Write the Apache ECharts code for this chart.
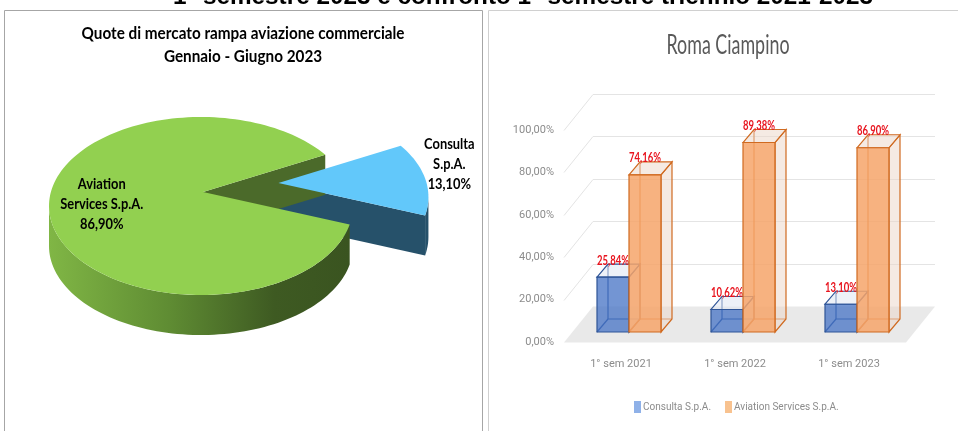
<!DOCTYPE html>
<html>
<head>
<meta charset="utf-8">
<title>Quote di mercato rampa - Roma Ciampino</title>
<script src="https://cdn.jsdelivr.net/npm/echarts/dist/echarts.min.js"></script>
<style>
  html, body { margin: 0; padding: 0; background: #fff; }
  #chart { width: 958px; height: 431px; }
</style>
</head>
<body>
<div id="chart"></div>
<script>
// dati
const categories = ['1° sem 2021', '1° sem 2022', '1° sem 2023'];
const consultaValues = [25.84, 10.62, 13.10];
const aviationValues = [74.16, 89.38, 86.90];
const yTicks = [0, 20, 40, 60, 80, 100];
const pieNames = ['Consulta S.p.A.', 'Aviation Services S.p.A.'];
const pieValues = [13.10, 86.90];

const LATO = "Lato, 'Noto Sans', sans-serif";
const AXIS_FONT = "Roboto, 'Noto Sans', sans-serif";
const pct = v => v.toFixed(2).replace('.', ',') + '%';

// i testi dell'originale sono in un carattere stretto: si comprimono in orizzontale
const measureCtx = document.createElement('canvas').getContext('2d');
function fitScale(text, font, target) {
  measureCtx.font = font;
  return target / measureCtx.measureText(text).width;
}
const sPageTitle = fitScale('1° semestre 2023 e confronto 1° semestre triennio 2021-2023', "bold 24px 'Liberation Sans'", 700);
const sPieTitle = fitScale('Quote di mercato rampa aviazione commerciale', 'bold 17px ' + LATO, 323);
const sPieLabel = fitScale('Services S.p.A.', 'bold 15px ' + LATO, 83);
const sBarTitle = fitScale('Roma Ciampino', '26px ' + LATO, 123);
const sBarLabel = fitScale('74,16%', 'bold 14px ' + LATO, 32);

// effetto 3D del grafico a barre
const WALL_DX = 29, WALL_DY = -36;
const BAR_W = 32, BAR_DX = 11, BAR_DY = -13, BAR_SHIFT_X = 8, BAR_SHIFT_Y = -10;

function renderWall(params, api) {
  const cs = params.coordSys;
  const v = api.value(1);
  const y = Math.round(api.coord([0, v])[1]) + 0.5;
  const x0 = cs.x, x1 = cs.x + cs.width;
  if (v === 0) {
    return {
      type: 'polygon',
      shape: { points: [[x0, y], [x1, y], [x1 + WALL_DX, y + WALL_DY], [x0 + WALL_DX, y + WALL_DY]] },
      style: { fill: '#e9e9e9' }
    };
  }
  return {
    type: 'polyline',
    shape: { points: [[x0, y], [x0 + WALL_DX, y + WALL_DY], [x1 + WALL_DX, y + WALL_DY]] },
    style: { stroke: '#e4e4e4', lineWidth: 1, fill: null }
  };
}

function boxRenderer(left, colors) {
  return function (params, api) {
    const base = api.coord([api.value(0), 0]);
    const top = api.coord([api.value(0), api.value(1)]);
    const xl = base[0] + BAR_SHIFT_X - (left ? BAR_W : 0);
    const xr = xl + BAR_W;
    const yb = base[1] + BAR_SHIFT_Y, yt = top[1] + BAR_SHIFT_Y;
    const dx = BAR_DX, dy = BAR_DY;
    const edge = { stroke: colors.edge, lineWidth: 1.2 };
    return {
      type: 'group',
      children: [
        // spigoli posteriori, visibili attraverso il vetro
        { type: 'polyline', shape: { points: [[xl + dx, yt + dy], [xl + dx, yb + dy], [xr + dx, yb + dy]] }, style: Object.assign({ fill: null }, edge) },
        { type: 'line', shape: { x1: xl, y1: yb, x2: xl + dx, y2: yb + dy }, style: edge },
        { type: 'polygon', shape: { points: [[xr, yt], [xr + dx, yt + dy], [xr + dx, yb + dy], [xr, yb]] }, style: Object.assign({ fill: colors.side }, edge) },
        { type: 'polygon', shape: { points: [[xl, yt], [xl + dx, yt + dy], [xr + dx, yt + dy], [xr, yt]] }, style: Object.assign({ fill: colors.side }, edge) },
        { type: 'rect', shape: { x: xl, y: yt, width: BAR_W, height: yb - yt }, style: Object.assign({ fill: colors.front }, edge) },
        {
          type: 'text', x: (xl + xr) / 2, y: yt + dy + 3, scaleX: sBarLabel,
          style: {
            text: pct(api.value(1)), x: 0, y: 0,
            align: 'center', verticalAlign: 'bottom',
            fill: '#e8141e', fontSize: 14, fontWeight: 'bold', fontFamily: LATO
          }
        }
      ]
    };
  };
}

// torta 3D
const PIE = { cx: 201, cy: 206, a: 152, b: 89, depth: 40, apexDx: 2, apexDy: -14, start: -12 };
const pieStyle = [
  { top: '#62c8fa', wall: '#26516a', side: '#26516a', explode: 77,
    label: { text: 'Consulta\nS.p.A.', dx: 24, dy: -15, outside: true } },
  { top: '#92d050', wall: '#4b6a2a', explode: 0,
    label: { text: 'Aviation\nServices S.p.A.', f: 0.68 },
    side: { type: 'linear', x: 0, y: 0, x2: 1, y2: 0, colorStops: [
      { offset: 0, color: '#80b645' }, { offset: 0.4, color: '#5f8c33' },
      { offset: 0.75, color: '#3e5a22' }, { offset: 1, color: '#3a5420' }] } }
];
const pieTotal = pieValues.reduce((s, v) => s + v, 0);
const pieAngles = [];
pieValues.reduce((acc, v) => {
  const span = v / pieTotal * 360;
  pieAngles.push([acc, acc + span]);
  return acc + span;
}, PIE.start);

function renderPie(params, api) {
  const i = params.dataIndex;
  const st = pieStyle[i];
  const rad = d => d * Math.PI / 180;
  const span = pieAngles[i][1] - pieAngles[i][0];
  const s = ((pieAngles[i][0] % 360) + 360) % 360;
  const e = s + span;
  const m = rad((s + e) / 2);
  const ox = st.explode * Math.cos(m), oy = -st.explode * Math.sin(m) * PIE.b / PIE.a;
  const rim = (deg, down) => [PIE.cx + ox + PIE.a * Math.cos(rad(deg)), PIE.cy + oy - PIE.b * Math.sin(rad(deg)) + (down ? PIE.depth : 0)];
  const apex = [PIE.cx + PIE.apexDx + ox, PIE.cy + PIE.apexDy + oy];
  const apexD = [apex[0], apex[1] + PIE.depth];
  const arc = (d1, d2, down) => {
    const pts = [];
    const n = Math.max(2, Math.ceil(Math.abs(d2 - d1) / 2));
    for (let k = 0; k <= n; k++) pts.push(rim(d1 + (d2 - d1) * k / n, down));
    return pts;
  };
  const children = [];
  // pareti radiali (z2 basso: restano dietro alle facce delle altre fette)
  if (Math.cos(rad(s)) > 0) {
    children.push({ type: 'polygon', z2: 0, shape: { points: [apex, rim(s), rim(s, true), apexD] }, style: { fill: st.wall } });
  }
  if (Math.cos(rad(e)) < 0) {
    children.push({ type: 'polygon', z2: 0, shape: { points: [apex, rim(e), rim(e, true), apexD] }, style: { fill: st.wall } });
  }
  // parete esterna (metà anteriore)
  [[180, 360], [540, 720]].forEach(r => {
    const a1 = Math.max(s, r[0]), a2 = Math.min(e, r[1]);
    if (a2 > a1) {
      const pts = arc(a1, a2, false).concat(arc(a2, a1, true));
      children.push({ type: 'polygon', z2: 1, shape: { points: pts }, style: { fill: st.side } });
    }
  });
  // faccia superiore
  children.push({ type: 'polygon', z2: 2, shape: { points: [apex].concat(arc(s, e, false)) }, style: { fill: st.top } });
  // etichetta
  let lx, ly;
  if (st.label.outside) {
    const p = rim((s + e) / 2);
    lx = p[0] + st.label.dx; ly = p[1] + st.label.dy;
  } else {
    lx = apex[0] + PIE.a * st.label.f * Math.cos(m);
    ly = apex[1] - PIE.b * st.label.f * Math.sin(m);
  }
  children.push({
    type: 'text', z2: 3, x: lx, y: ly, scaleX: sPieLabel,
    style: {
      text: st.label.text + '\n' + pct(api.value(0)), x: 0, y: 0, align: 'center', verticalAlign: 'middle',
      fill: '#000', fontSize: 15, fontWeight: 'bold', fontFamily: LATO, lineHeight: 20
    }
  });
  return { type: 'group', children: children };
}

const chart = echarts.init(document.getElementById('chart'));
chart.setOption({
  backgroundColor: '#fff',
  animation: false,
  graphic: [
    { type: 'rect', shape: { x: 4.5, y: 10.5, width: 478, height: 440 }, style: { fill: null, stroke: '#a6a6a6', lineWidth: 1 } },
    { type: 'rect', shape: { x: 488.5, y: 10.5, width: 480, height: 440 }, style: { fill: null, stroke: '#d0d0d0', lineWidth: 1 } },
    {
      type: 'text', x: 523, y: -3, scaleX: sPageTitle,
      style: { text: '1° semestre 2023 e confronto 1° semestre triennio 2021-2023', x: 0, y: 0, align: 'center', verticalAlign: 'middle',
        fill: '#000', fontSize: 24, fontWeight: 'bold', fontFamily: "'Liberation Sans', sans-serif" }
    },
    {
      type: 'text', x: 243, y: 45.5, scaleX: sPieTitle,
      style: { text: 'Quote di mercato rampa aviazione commerciale\nGennaio - Giugno 2023', x: 0, y: 0, align: 'center', verticalAlign: 'middle',
        fill: '#000', fontSize: 17, fontWeight: 'bold', fontFamily: LATO, lineHeight: 23 }
    },
    {
      type: 'text', x: 728, y: 46, scaleX: sBarTitle,
      style: { text: 'Roma Ciampino', x: 0, y: 0, align: 'center', verticalAlign: 'middle',
        fill: '#595959', fontSize: 26, fontFamily: LATO }
    }
  ],
  legend: {
    left: 634, top: 401, padding: 0, icon: 'rect', itemWidth: 7, itemHeight: 12, itemGap: 14,
    selectedMode: false,
    textStyle: { color: '#8c8c8c', fontSize: 10, fontFamily: AXIS_FONT, padding: [0, 0, 0, -3] },
    data: [
      { name: 'Consulta S.p.A.', itemStyle: { color: '#8fb1e8' } },
      { name: 'Aviation Services S.p.A.', itemStyle: { color: '#f8c28f' } }
    ]
  },
  grid: { left: 564, right: 52, top: 130, bottom: 89 },
  xAxis: {
    type: 'category', data: categories,
    axisLine: { show: false }, axisTick: { show: false },
    axisLabel: { color: '#8c8c8c', fontSize: 11, fontFamily: AXIS_FONT, margin: 17 }
  },
  yAxis: {
    type: 'value', min: 0, max: 100, interval: 20,
    axisLine: { show: false }, axisTick: { show: false }, splitLine: { show: false },
    axisLabel: { color: '#8c8c8c', fontSize: 11, fontFamily: AXIS_FONT, margin: 10, formatter: pct }
  },
  series: [
    { type: 'custom', name: 'pareti', z: 1, silent: true, renderItem: renderWall, data: yTicks.map(v => [0, v]), encode: { x: 0, y: 1 } },
    {
      type: 'custom', name: 'Consulta S.p.A.', z: 3, itemStyle: { color: '#8fb1e8' },
      renderItem: boxRenderer(true, { front: 'rgba(68,114,196,0.75)', side: 'rgba(222,229,242,0.55)', edge: '#2f5597' }),
      data: consultaValues.map((v, i) => [i, v]), encode: { x: 0, y: 1 }
    },
    {
      type: 'custom', name: 'Aviation Services S.p.A.', z: 4, itemStyle: { color: '#f8c28f' },
      renderItem: boxRenderer(false, { front: 'rgba(246,164,106,0.85)', side: 'rgba(236,214,200,0.5)', edge: '#d06a20' }),
      data: aviationValues.map((v, i) => [i, v]), encode: { x: 0, y: 1 }
    },
    { type: 'custom', name: 'Quote 2023', coordinateSystem: 'none', z: 2, renderItem: renderPie, data: pieValues }
  ]
});
</script>
</body>
</html>
